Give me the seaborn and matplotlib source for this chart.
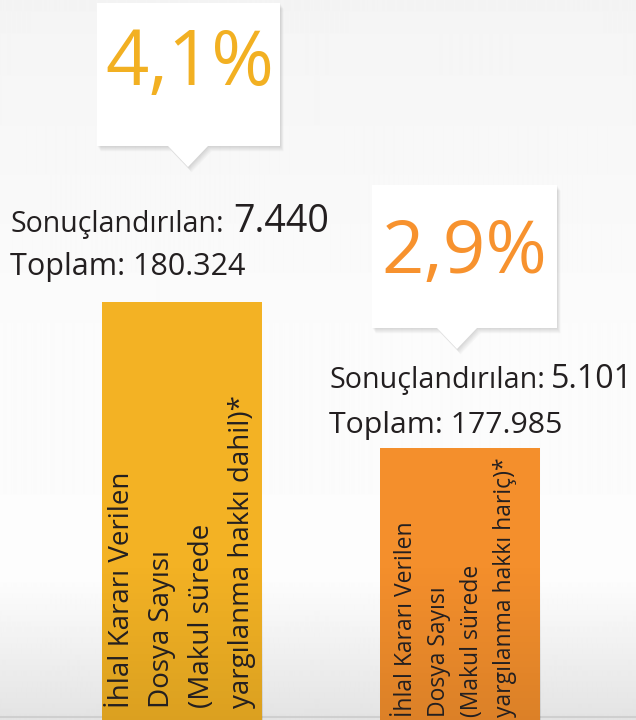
import numpy as np
import matplotlib.pyplot as plt
import seaborn as sns
from matplotlib.patches import Polygon

# data
categories = ['dahil', 'hariç']
percents = [4.1, 2.9]
percent_labels = ['4,1%', '2,9%']
sonuclandirilan = ['7.440', '5.101']
toplam = ['180.324', '177.985']
bar_lines = [
    ['İhlal Kararı Verilen', 'Dosya Sayısı', '(Makul sürede', 'yargılanma hakkı dahil)*'],
    ['İhlal Kararı Verilen', 'Dosya Sayısı', '(Makul sürede', 'yargılanma hakkı hariç)*'],
]
bar_colors = ['#F3B224', '#F48F2C']
text_colors = ['#F2B022', '#F7922E']
dark = '#231F20'

sns.set_theme(style='white')
plt.rcParams['font.family'] = ['Open Sans', 'DejaVu Sans']

W, H = 636, 720
fig = plt.figure(figsize=(W / 100, H / 100), dpi=100)
renderer = fig.canvas.get_renderer()


def fx(x):
    return x / W


def fy(y):
    return 1 - y / H


def fit(t, target, vertical=False):
    # scale font so the text spans the width measured on the reference
    bb = t.get_window_extent(renderer)
    span = bb.height if vertical else bb.width
    t.set_fontsize(t.get_fontsize() * target / span)
    return t


# background: light grey top, white middle, grey toward the floor
bg = fig.add_axes([0, 0, 1, 1], zorder=-2)
bg.axis('off')
rows = np.arange(H)
shade = np.interp(rows, [0, 40, 330, 580, 700, 720], [0.955, 0.962, 0.985, 0.99, 0.905, 0.89])
bg.imshow(np.repeat(shade[:, None], 2, axis=1), cmap='gray', vmin=0, vmax=1,
          aspect='auto', extent=(0, 1, 0, 1), interpolation='bilinear')
bg.set_xlim(0, 1)
bg.set_ylim(0, 1)
bg.axhline(fy(717), color='#CFCFCF', lw=1.5)

# bars
ax = fig.add_axes([0, 0, 1, 1], zorder=-1)
ax.patch.set_alpha(0)
sns.barplot(x=categories, y=percents, hue=categories, palette=bar_colors,
            width=0.576, legend=False, ax=ax, saturation=1)
ylim = (0.6645, 6.582)
ax.set_xlim(-0.655, 1.633)
ax.set_ylim(*ylim)

# darken the lower part of each bar a little
fade = np.zeros((100, 2, 4))
fade[..., 3] = np.linspace(0.0, 0.1, 100)[:, None]
y_fade = ylim[0] + (ylim[1] - ylim[0]) * 0.22
for p in list(ax.patches):
    p.set_linewidth(0)
    x0 = p.get_x()
    im = ax.imshow(fade, extent=(x0, x0 + p.get_width(), ylim[0], y_fade),
                   aspect='auto', zorder=3, interpolation='bilinear')
    im.set_clip_path(p)
ax.set_xlim(-0.655, 1.633)
ax.set_ylim(*ylim)
ax.axis('off')

# callout boxes
boxes = [(97, 280, 3, 146, 188), (372, 557, 185, 328, 457)]
for i, (x0, x1, y0, y1, cx) in enumerate(boxes):
    pts = [(x0, y0), (x1, y0), (x1, y1), (cx + 20, y1), (cx, y1 + 21), (cx - 20, y1), (x0, y1)]
    for k in range(6, 0, -1):
        sh = [(fx(x + k * 0.6), fy(y + k * 0.9)) for x, y in pts]
        fig.patches.append(Polygon(sh, closed=True, transform=fig.transFigure,
                                   facecolor='black', alpha=0.025, lw=0))
    fig.patches.append(Polygon([(fx(x), fy(y)) for x, y in pts], closed=True,
                               transform=fig.transFigure, facecolor='white', lw=0))

# big percentages
pct_pos = [(105, 85, 169), (381, 273, 166)]
for i, (x, yb, w) in enumerate(pct_pos):
    t = fig.text(fx(x), fy(yb), percent_labels[i], color=text_colors[i], fontsize=50,
                 va='baseline', ha='left', zorder=5)
    fit(t, w)

# totals text
info = [(10, 232, 275, 213, 233, 96, 235), (329, 388, 433, 214, 551, 82, 233)]
for i, (x, yb1, yb2, wl, xn, wn, wt) in enumerate(info):
    t = fig.text(fx(x), fy(yb1), 'Sonuçlandırılan:', color=dark, fontsize=20, va='baseline', zorder=5)
    fit(t, wl)
    t = fig.text(fx(xn), fy(yb1), sonuclandirilan[i], color=dark, fontsize=20, va='baseline', zorder=5)
    fit(t, wn)
    t = fig.text(fx(x), fy(yb2), 'Toplam: ' + toplam[i], color=dark, fontsize=20, va='baseline', zorder=5)
    fit(t, wt)

# rotated labels inside the bars
inner = [(708, 236, [122, 162, 202, 242]), (717, 195, [406, 439, 472, 505])]
for i, (ys, span, xs) in enumerate(inner):
    first = fig.text(fx(xs[0]), fy(ys), bar_lines[i][0], color=dark, fontsize=18, rotation=90,
                     rotation_mode='anchor', ha='left', va='center', zorder=5)
    fit(first, span, vertical=True)
    size = first.get_fontsize()
    for x, line in zip(xs[1:], bar_lines[i][1:]):
        fig.text(fx(x), fy(ys), line, color=dark, fontsize=size, rotation=90,
                 rotation_mode='anchor', ha='left', va='center', zorder=5)

fig.savefig('out.png', dpi=100)
